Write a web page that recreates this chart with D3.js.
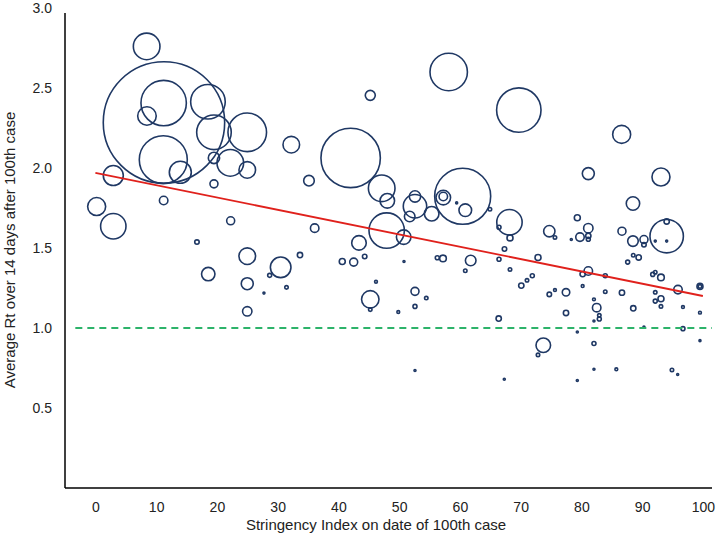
<!DOCTYPE html>
<html><head><meta charset="utf-8">
<script src="https://cdn.jsdelivr.net/npm/d3@7"></script>
<style>html,body{margin:0;padding:0;background:#fff}svg{display:block}</style>
</head><body>
<svg id="chart" width="720" height="537"></svg>
<script>
// Stringency index (x), average Rt (y), bubble weight (area-proportional)
const stringency = [8.44,11.29,11.24,8.49,18.53,19.52,25.0,11.18,13.98,19.52,22.21,25.0,32.25,19.52,2.95,0.21,2.95,11.24,22.27,16.72,25.0,18.58,30.5,28.69,25.0,27.75,31.46,25.0,33.68,
58.16,45.25,69.70,42.02,35.16,47.13,48.05,52.61,52.61,51.74,55.36,60.46,57.27,57.27,59.47,60.89,64.95,68.16,66.44,68.25,47.95,50.75,36.10,43.39,67.34,40.64,42.52,44.33,50.80,56.28,57.22,61.78,66.44,60.89,68.25,46.19,52.61,54.47,52.61,45.25,45.25,49.86,66.39,52.61,67.31,
86.63,81.14,93.10,88.49,74.72,75.65,79.33,81.14,79.77,81.14,81.14,78.34,86.68,88.49,90.30,90.30,94.04,94.04,92.16,94.04,72.86,70.11,71.05,71.92,74.72,75.65,77.47,80.21,81.14,80.21,83.93,83.93,86.68,87.62,88.54,89.43,91.74,92.16,93.10,95.90,99.52,99.52,92.16,92.16,93.10,93.10,77.47,82.07,82.52,82.95,82.95,82.07,88.54,96.72,99.52,79.33,90.30,96.72,73.73,72.86,82.07,99.52,82.07,85.75,94.91,95.85,79.33];
const rt = [2.76,2.285,2.406,2.325,2.414,2.223,2.223,2.052,1.973,2.063,2.032,1.988,2.146,1.901,1.953,1.759,1.636,1.797,1.670,1.537,1.449,1.337,1.379,1.329,1.277,1.218,1.254,1.104,1.456,
2.600,2.454,2.362,2.063,1.921,1.873,1.795,1.822,1.761,1.697,1.714,1.823,1.815,1.822,1.782,1.736,1.742,1.661,1.630,1.563,1.609,1.568,1.624,1.532,1.494,1.416,1.412,1.447,1.416,1.439,1.435,1.422,1.430,1.358,1.366,1.289,1.229,1.187,1.135,1.179,1.115,1.100,1.059,0.734,0.680,
2.210,1.965,1.944,1.778,1.605,1.566,1.689,1.624,1.568,1.576,1.555,1.553,1.605,1.543,1.553,1.520,1.574,1.666,1.543,1.543,1.441,1.265,1.298,1.327,1.210,1.237,1.223,1.337,1.356,1.262,1.327,1.227,1.221,1.412,1.455,1.441,1.335,1.349,1.316,1.240,1.260,1.260,1.223,1.168,1.183,1.135,1.094,1.179,1.127,1.079,1.056,1.044,1.123,1.131,1.096,0.975,1.006,0.996,0.892,0.832,0.903,0.921,0.742,0.742,0.738,0.709,0.672];
const size = [177,3684,515,86,299,299,372,576,121,32,177,69,69,16,100,81,161,18,16,5,69,45,106,4,36,1,3,22,7,
350,25,493,882,28,177,53,32,137,28,53,784,53,18,1,40,3,161,4,9,313,53,18,53,5,9,16,5,1,4,11,28,4,3,3,2,16,3,4,76,3,2,7,1,1,
81,36,81,45,32,3,9,22,18,7,4,1,16,28,16,5,279,7,1,1,9,7,3,4,5,2,14,7,18,2,4,3,7,4,3,7,4,3,11,18,9,3,3,4,9,3,7,2,18,3,4,1,7,2,2,1,1,4,53,3,4,1,1,2,3,1,1];

const trendX = [0, 100];
const trendY = [1.97, 1.20];
const thresholdX = [-3.3, 101.5];
const thresholdY = [1.0, 1.0];

const xTicks = [0,10,20,30,40,50,60,70,80,90,100];
const yTicks = [0.5,1.0,1.5,2.0,2.5,3.0];

const svg = d3.select("#chart");
const x = d3.scaleLinear().domain([-5, 101.5]).range([65, 712]);
const y = d3.scaleLinear().domain([0, 3]).range([488, 8]);
const r = d3.scaleSqrt().domain([0, 3684]).range([0, 60.7]);

const font = "'Liberation Sans', Arial, sans-serif";

// bubbles
const pts = stringency.map((s,i)=>({x:s, y:rt[i], w:size[i]}));
svg.append("g").selectAll("circle").data(pts).join("circle")
  .attr("cx", d=>x(d.x)).attr("cy", d=>y(d.y)).attr("r", d=>r(d.w))
  .attr("fill","none").attr("stroke","#1f3864").attr("stroke-width",1.6);

// threshold line
const line = d3.line().x(d=>x(d[0])).y(d=>y(d[1]));
svg.append("path").attr("d", line(thresholdX.map((v,i)=>[v,thresholdY[i]])))
  .attr("fill","none").attr("stroke","#2db36a").attr("stroke-width",2).attr("stroke-dasharray","7,5");

// trend line
svg.append("path").attr("d", line(trendX.map((v,i)=>[v,trendY[i]])))
  .attr("fill","none").attr("stroke","#e0211c").attr("stroke-width",1.8);

// axes
const xAxis = svg.append("g").attr("transform","translate(0,488)")
  .call(d3.axisBottom(x).tickValues(xTicks).tickSize(0).tickPadding(14).tickFormat(d3.format("d")));
xAxis.select(".domain").attr("stroke","#000").attr("stroke-width",1.5).attr("d","M65,0H712");
xAxis.selectAll("text").attr("font-family",font).attr("font-size",14).attr("fill","#222");

const yAxis = svg.append("g").attr("transform","translate(65,0)")
  .call(d3.axisLeft(y).tickValues(yTicks).tickSize(0).tickPadding(13).tickFormat(d3.format(".1f")));
yAxis.select(".domain").attr("stroke","#000").attr("stroke-width",1.5).attr("d","M0,13V488");
yAxis.selectAll("text").attr("font-family",font).attr("font-size",14).attr("fill","#222").attr("dy","0.3em");

svg.append("text").attr("x",376).attr("y",530).attr("text-anchor","middle")
  .attr("font-family",font).attr("font-size",15).attr("fill","#222")
  .text("Stringency Index on date of 100th case");
svg.append("text").attr("transform","translate(15,250) rotate(-90)").attr("text-anchor","middle")
  .attr("font-family",font).attr("font-size",15).attr("fill","#222")
  .text("Average Rt over 14 days after 100th case");
</script>
</body></html>
